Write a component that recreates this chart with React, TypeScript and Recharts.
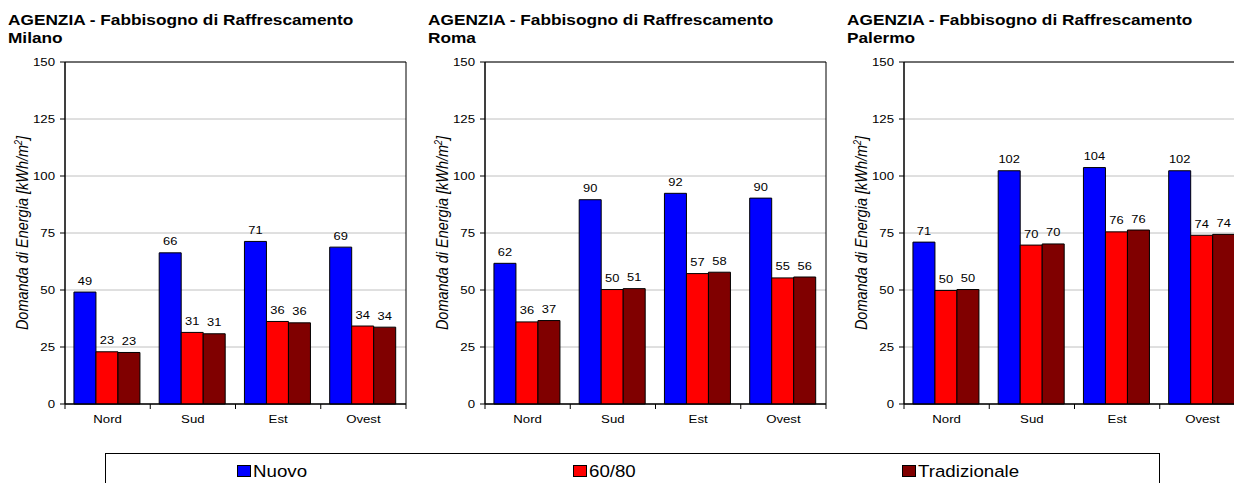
import React from "react";
import {
  BarChart,
  Bar,
  XAxis,
  YAxis,
  CartesianGrid,
  LabelList,
  ReferenceArea,
} from "recharts";

const categories = ["Nord", "Sud", "Est", "Ovest"];
const seriesNames = ["Nuovo", "60/80", "Tradizionale"];
const seriesKeys = ["nuovo", "mid", "trad"];
const seriesColors = ["#0000ff", "#ff0000", "#800000"];
const yTicks = [0, 25, 50, 75, 100, 125, 150];
const titleText = "AGENZIA - Fabbisogno di Raffrescamento";
const yLabelText = "Domanda di Energia [kWh/m";

const milanoNuovo = [49.1, 66.3, 71.3, 68.8];
const milano6080 = [22.9, 31.4, 36.2, 34.2];
const milanoTrad = [22.6, 30.8, 35.6, 33.7];

const romaNuovo = [61.7, 89.6, 92.4, 90.3];
const roma6080 = [36.0, 50.2, 57.2, 55.3];
const romaTrad = [36.6, 50.6, 57.8, 55.7];

const palermoNuovo = [71.0, 102.3, 103.7, 102.3];
const palermo6080 = [49.8, 69.7, 75.5, 74.0];
const palermoTrad = [50.2, 70.2, 76.3, 74.4];

const FONT = '"Liberation Sans", Arial, Helvetica, sans-serif';
// the source picture is stretched sideways, so text is widened a bit
const SX = 1.15;

const CHART_W = 420;
const CHART_H = 440;
const PLOT_LEFT = 65;
const PLOT_W = 341;
const PLOT_TOP = 62;
const BAND = PLOT_W / categories.length;

const buildRows = (a: number[], b: number[], c: number[]) =>
  categories.map((cat, i) => ({ cat, nuovo: a[i], mid: b[i], trad: c[i] }));

const XTick = (props: any) => {
  const { x, y, payload, index } = props;
  const half = BAND / 2;
  return (
    <g>
      <line x1={x - half} x2={x - half} y1={y} y2={y + 5} stroke="#000" />
      {index === categories.length - 1 && (
        <line x1={x + half} x2={x + half} y1={y} y2={y + 5} stroke="#000" />
      )}
      <text
        transform={`translate(${x},${y + 19}) scale(${SX},1)`}
        textAnchor="middle"
        fontSize={11.5}
        fontFamily={FONT}
        fill="#000"
      >
        {payload.value}
      </text>
    </g>
  );
};

const YTick = (props: any) => {
  const { x, y, payload } = props;
  return (
    <text
      transform={`translate(${x},${y + 4}) scale(${SX},1)`}
      textAnchor="end"
      fontSize={11.5}
      fontFamily={FONT}
      fill="#000"
    >
      {payload.value}
    </text>
  );
};

const ValueLabel = (props: any) => {
  const vb = props.viewBox && props.viewBox.x != null ? props.viewBox : props;
  const x = Number(vb.x);
  const y = Number(vb.y);
  const w = Number(vb.width);
  return (
    <text
      transform={`translate(${x + w / 2},${y - 7.5}) scale(1.12,1)`}
      textAnchor="middle"
      fontSize={11.5}
      fontFamily={FONT}
      fill="#000"
    >
      {Math.round(Number(props.value))}
    </text>
  );
};

const YLabel = (props: any) => {
  const vb = props.viewBox;
  const cx = vb.x + vb.width - 37;
  const cy = vb.y + vb.height / 2;
  return (
    <text
      transform={`translate(${cx},${cy}) scale(${SX},1) rotate(-90)`}
      textAnchor="middle"
      fontSize={14.5}
      fontStyle="italic"
      fontFamily={FONT}
      fill="#000"
    >
      {yLabelText}
      <tspan dy={-5} fontSize={9}>
        2
      </tspan>
      <tspan dy={5}>]</tspan>
    </text>
  );
};

interface CityChartProps {
  city: string;
  left: number;
  rows: { cat: string; nuovo: number; mid: number; trad: number }[];
}

const CityChart: React.FC<CityChartProps> = ({ city, left, rows }) => (
  <div
    style={{
      position: "absolute",
      left,
      top: 0,
      width: CHART_W,
      height: CHART_H,
    }}
  >
    <div
      style={{
        position: "absolute",
        left: 8,
        top: 11,
        fontFamily: FONT,
        fontWeight: "bold",
        fontSize: 15,
        lineHeight: "18px",
        transform: `scaleX(${SX})`,
        transformOrigin: "left top",
        whiteSpace: "nowrap",
        color: "#000",
      }}
    >
      {titleText}
      <br />
      {city}
    </div>
    <BarChart
      width={CHART_W}
      height={CHART_H}
      data={rows}
      margin={{
        top: PLOT_TOP,
        right: CHART_W - PLOT_LEFT - PLOT_W,
        bottom: 6,
        left: 20,
      }}
      barCategoryGap="10.5%"
      barGap={0}
    >
      <CartesianGrid vertical={false} stroke="#c0c0c0" />
      <XAxis
        dataKey="cat"
        height={30}
        tickLine={false}
        tickSize={0}
        tickMargin={0}
        axisLine={{ stroke: "#000" }}
        tick={<XTick />}
        interval={0}
      />
      <YAxis
        width={45}
        domain={[0, 150]}
        ticks={yTicks}
        interval={0}
        tickSize={5}
        tickMargin={5}
        tickLine={{ stroke: "#000" }}
        axisLine={{ stroke: "#000" }}
        tick={<YTick />}
        label={<YLabel />}
      />
      {seriesKeys.map((key, i) => (
        <Bar
          key={key}
          dataKey={key}
          name={seriesNames[i]}
          fill={seriesColors[i]}
          stroke="#000"
          strokeWidth={1}
          isAnimationActive={false}
        >
          <LabelList dataKey={key} content={<ValueLabel />} />
        </Bar>
      ))}
      <ReferenceArea y1={0} y2={150} fill="none" stroke="#000" strokeWidth={1} />
    </BarChart>
  </div>
);

const legendSwatchX = [237, 573, 902];

const Legend = () => (
  <svg
    width={1234}
    height={483}
    style={{ position: "absolute", left: 0, top: 0, pointerEvents: "none" }}
  >
    <rect x={105.5} y={453.5} width={1054} height={40} fill="#fff" stroke="#000" />
    {seriesNames.map((name, i) => (
      <g key={name}>
        <rect
          x={legendSwatchX[i] + 0.5}
          y={465.5}
          width={13}
          height={11}
          fill={seriesColors[i]}
          stroke="#000"
        />
        <text
          transform={`translate(${legendSwatchX[i] + 16},477) scale(1.1,1)`}
          fontSize={17}
          fontFamily={FONT}
          fill="#000"
        >
          {name}
        </text>
      </g>
    ))}
  </svg>
);

export default function App() {
  return (
    <div
      style={{
        position: "absolute",
        left: 0,
        top: 0,
        width: 1234,
        height: 483,
        overflow: "hidden",
        background: "#fff",
      }}
    >
      <CityChart city="Milano" left={0} rows={buildRows(milanoNuovo, milano6080, milanoTrad)} />
      <CityChart city="Roma" left={420} rows={buildRows(romaNuovo, roma6080, romaTrad)} />
      <CityChart
        city="Palermo"
        left={839}
        rows={buildRows(palermoNuovo, palermo6080, palermoTrad)}
      />
      <Legend />
    </div>
  );
}
